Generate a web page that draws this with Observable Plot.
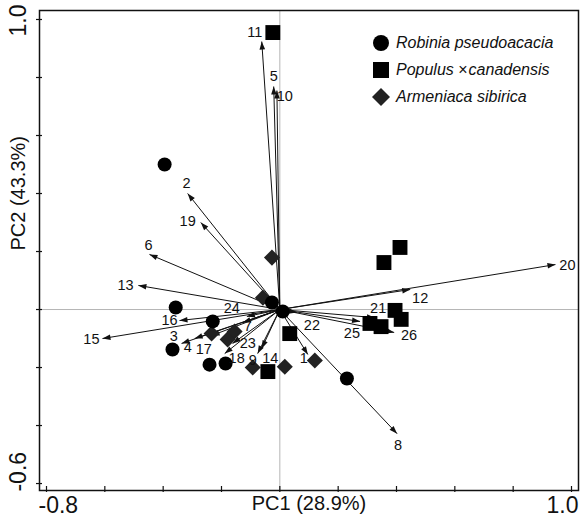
<!DOCTYPE html>
<html><head><meta charset="utf-8">
<script src="https://cdn.jsdelivr.net/npm/d3@7"></script>
<script src="https://cdn.jsdelivr.net/npm/@observablehq/plot@0.6"></script>
<style>
body{margin:0;background:#fff;}
#wrap{position:relative;width:580px;height:523px;}
#legend{position:absolute;left:371px;top:29px;font:italic 16px "Liberation Sans",Arial,sans-serif;color:#111;}
.row{display:flex;align-items:center;height:27px;white-space:nowrap;}
.row svg{width:20px;height:20px;margin-right:5px;}
</style></head><body><div id="wrap"><div id="legend"></div></div>
<script>
// Species (sample scores)
const speciesNames = ["Robinia pseudoacacia", "Populus ×canadensis", "Armeniaca sibirica"];
const rpX = [-0.395, -0.357, -0.230, -0.368, -0.241, -0.186, -0.027, 0.010, 0.230];
const rpY = [0.500, 0.007, -0.041, -0.138, -0.190, -0.186, 0.024, -0.007, -0.238];
const pcX = [-0.024, 0.412, 0.357, 0.395, 0.416, 0.309, 0.347, 0.034, -0.041];
const pcY = [0.955, 0.214, 0.162, -0.003, -0.034, -0.048, -0.059, -0.083, -0.214];
const asX = [-0.027, -0.058, -0.234, -0.179, -0.155, -0.093, 0.017, 0.120];
const asY = [0.179, 0.041, -0.083, -0.103, -0.076, -0.200, -0.197, -0.176];

// Variable loadings (arrows)
const varNames = ["1","2","3","4","5","6","7","8","9","10","11","12","13","14","15","16","17","18","19","20","21","22","23","24","25","26"];
const varX = [0.096,-0.316,-0.337,-0.292,-0.021,-0.447,-0.127,0.402,-0.076,-0.010,-0.062,0.447,-0.485,-0.062,-0.608,-0.344,-0.234,-0.189,-0.271,0.945,0.326,0.058,-0.162,-0.113,0.275,0.392];
const varY = [-0.155,0.400,-0.117,-0.100,0.769,0.190,-0.045,-0.428,-0.152,0.755,0.924,0.069,0.083,-0.134,-0.100,-0.038,-0.090,-0.152,0.300,0.155,-0.028,-0.010,-0.117,-0.024,-0.041,-0.079];
const labelX = [0.082,-0.320,-0.364,-0.316,-0.021,-0.450,-0.110,0.405,-0.093,0.017,-0.086,0.481,-0.529,-0.033,-0.646,-0.378,-0.261,-0.148,-0.316,0.986,0.337,0.110,-0.110,-0.165,0.247,0.443];
const labelY = [-0.169,0.434,-0.093,-0.131,0.803,0.221,-0.058,-0.469,-0.176,0.734,0.955,0.038,0.083,-0.169,-0.103,-0.038,-0.138,-0.169,0.303,0.152,0.003,-0.055,-0.117,0.003,-0.083,-0.090];

// Axes
const xTicks = [-0.8,-0.6,-0.4,-0.2,0,0.2,0.4,0.6,0.8,1.0];
const yTicks = [-0.6,-0.4,-0.2,0,0.2,0.4,0.6,0.8,1.0];
const xTickLabels = ["-0.8", "1.0"];
const yTickLabels = ["-0.6", "1.0"];
const xTitle = "PC1 (28.9%)";
const yTitle = "PC2 (43.3%)";

const rp = rpX.map((x, i) => ({x, y: rpY[i]}));
const pc = pcX.map((x, i) => ({x, y: pcY[i]}));
const as = asX.map((x, i) => ({x, y: asY[i]}));
const vars = varNames.map((name, i) => ({name, x: varX[i], y: varY[i], lx: labelX[i], ly: labelY[i]}));

const diamond = {draw(ctx, size) { const h = Math.sqrt(size / 2); ctx.moveTo(0, -h); ctx.lineTo(h, 0); ctx.lineTo(0, h); ctx.lineTo(-h, 0); ctx.closePath(); }};
const ink = "#111";

const chart = Plot.plot({
  width: 580, height: 523,
  marginLeft: 39, marginRight: 2, marginTop: 10, marginBottom: 33,
  style: {fontFamily: '"Liberation Sans", Arial, sans-serif', background: "#fff", color: ink},
  x: {domain: [-0.824, 1.024], axis: null},
  y: {domain: [-0.624, 1.031], axis: null},
  marks: [
    Plot.ruleX([0], {stroke: "#b5b5b5", strokeWidth: 1}),
    Plot.ruleY([0], {stroke: "#b5b5b5", strokeWidth: 1}),
    Plot.axisX(xTicks, {tickSize: 6, dy: -4, tickFormat: () => "", stroke: ink, strokeWidth: 1.2}),
    Plot.axisY(yTicks, {tickSize: 6, dx: 3, tickFormat: () => "", stroke: ink, strokeWidth: 1.2}),
    Plot.link(vars, {
      x1: 0, y1: 0, x2: "x", y2: "y", stroke: ink, strokeWidth: 1,
      render(index, scales, values, dimensions, context, next) {
        const g = next(index, scales, values, dimensions, context);
        const sel = d3.select(g);
        for (const i of index) {
          const x1 = values.x1[i], y1 = values.y1[i], x2 = values.x2[i], y2 = values.y2[i];
          const dx = x2 - x1, dy = y2 - y1, L = Math.hypot(dx, dy), ux = dx / L, uy = dy / L;
          const hl = 8, hw = 2.8, bx = x2 - ux * hl, by = y2 - uy * hl;
          sel.append("path")
            .attr("d", `M${x2},${y2}L${bx - uy * hw},${by + ux * hw}L${bx + uy * hw},${by - ux * hw}Z`)
            .attr("fill", ink).attr("stroke", "none");
        }
        return g;
      }
    }),
    Plot.dot(as, {x: "x", y: "y", symbol: diamond, r: 6.4, fill: "#222", stroke: "none"}),
    Plot.dot(pc, {x: "x", y: "y", symbol: "square", r: 8.4, fill: "#000", stroke: "none"}),
    Plot.dot(rp, {x: "x", y: "y", symbol: "circle", r: 7, fill: "#000", stroke: "none"}),
    Plot.text(vars, {x: "lx", y: "ly", text: "name", fontSize: 14.5, fill: ink}),
    Plot.frame({stroke: ink, strokeWidth: 1.5}),
    // tick labels
    Plot.text([xTicks[0]], {x: d => d, frameAnchor: "bottom", text: () => xTickLabels[0], textAnchor: "start", lineAnchor: "top", dx: -8, dy: 6, fontSize: 23, fill: ink}),
    Plot.text([xTicks[xTicks.length - 1]], {x: d => d, frameAnchor: "bottom", text: () => xTickLabels[1], textAnchor: "end", lineAnchor: "top", dx: 7, dy: 6, fontSize: 23, fill: ink}),
    Plot.text([yTicks[0]], {y: d => d, frameAnchor: "left", text: () => yTickLabels[0], rotate: -90, textAnchor: "start", lineAnchor: "middle", dx: -21, dy: 8, fontSize: 23, fill: ink}),
    Plot.text([yTicks[yTicks.length - 1]], {y: d => d, frameAnchor: "left", text: () => yTickLabels[1], rotate: -90, textAnchor: "middle", lineAnchor: "middle", dx: -21, dy: 1, fontSize: 23, fill: ink}),
    // axis titles
    Plot.text([xTitle], {frameAnchor: "bottom", text: d => d, lineAnchor: "top", dy: 5, fontSize: 20, fill: ink}),
    Plot.text([yTitle], {frameAnchor: "left", text: d => d, rotate: -90, lineAnchor: "middle", dx: -21, fontSize: 20, fill: ink})
  ]
});
document.getElementById("wrap").prepend(chart);

// Legend
const legendSymbols = [
  '<circle cx="10" cy="10" r="8" fill="#000"/>',
  '<rect x="2" y="2" width="16" height="16" fill="#000"/>',
  '<path d="M10,1L19,10L10,19L1,10Z" fill="#222"/>'
];
const legendHTML = [
  speciesNames[0],
  speciesNames[1].replace("×", '<span style="font-style:normal;margin-right:1px">×</span>'),
  speciesNames[2]
];
document.getElementById("legend").innerHTML = legendSymbols.map((s, i) =>
  `<div class="row"><svg viewBox="0 0 20 20">${s}</svg><span>${legendHTML[i]}</span></div>`).join("");
</script>
</body></html>
